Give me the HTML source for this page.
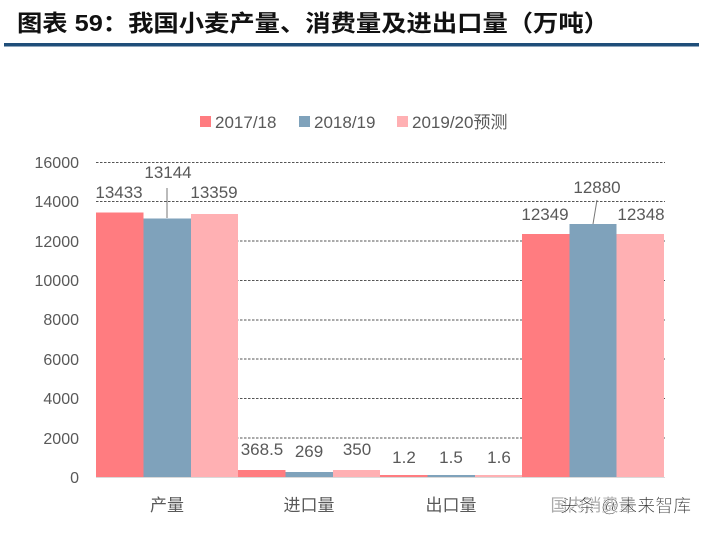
<!DOCTYPE html>
<html><head><meta charset="utf-8"><style>
body{margin:0;background:#fff;}
svg text{font-family:"Liberation Sans","Noto Sans CJK SC",sans-serif;}
</style></head><body>
<svg width="705" height="532" xmlns="http://www.w3.org/2000/svg">
<text x="17" y="31" font-size="23" font-weight="bold" fill="#111" textLength="592" lengthAdjust="spacingAndGlyphs">图表 59：我国小麦产量、消费量及进出口量（万吨）</text>
<rect x="4" y="43" width="695" height="3.5" fill="#1f4e79"/>
<g stroke="#555" stroke-width="1" stroke-dasharray="2.5,1.5">
<line x1="96" y1="162.5" x2="665" y2="162.5"/>
<line x1="96" y1="201.5" x2="665" y2="201.5"/>
<line x1="96" y1="241" x2="665" y2="241"/>
<line x1="96" y1="280.5" x2="665" y2="280.5"/>
<line x1="96" y1="320" x2="665" y2="320"/>
<line x1="96" y1="359" x2="665" y2="359"/>
<line x1="96" y1="398.5" x2="665" y2="398.5"/>
<line x1="96" y1="438" x2="665" y2="438"/>
</g>
<g font-size="16" fill="#595959" text-anchor="end">
<text x="79" y="168">16000</text><text x="79" y="207">14000</text><text x="79" y="247">12000</text>
<text x="79" y="286">10000</text><text x="79" y="325">8000</text><text x="79" y="365">6000</text>
<text x="79" y="404">4000</text><text x="79" y="444">2000</text><text x="79" y="483">0</text>
</g>
<g>
<rect x="96" y="212.5" width="47.5" height="264.5" fill="#ff7c80"/>
<rect x="143.5" y="218.5" width="47.5" height="258.5" fill="#7fa2bb"/>
<rect x="191" y="214" width="47" height="263" fill="#ffb0b3"/>
<rect x="238" y="470" width="47.5" height="7" fill="#ff7c80"/>
<rect x="285.5" y="472" width="47.5" height="5" fill="#7fa2bb"/>
<rect x="333" y="470" width="47" height="7" fill="#ffb0b3"/>
<rect x="380" y="475" width="47.5" height="2" fill="#ff7c80"/>
<rect x="427.5" y="475" width="47.5" height="2" fill="#7fa2bb"/>
<rect x="475" y="475" width="47" height="2" fill="#ffb0b3"/>
<rect x="522" y="234" width="47.5" height="243" fill="#ff7c80"/>
<rect x="569.5" y="224" width="47" height="253" fill="#7fa2bb"/>
<rect x="616.5" y="234" width="47.5" height="243" fill="#ffb0b3"/>
</g>
<line x1="167" y1="188" x2="167" y2="218" stroke="#777" stroke-width="1"/>
<line x1="597" y1="200" x2="593" y2="224" stroke="#777" stroke-width="1"/>
<g font-size="17" fill="#595959" text-anchor="middle">
<text x="119" y="198">13433</text><text x="168" y="178">13144</text><text x="214" y="198">13359</text>
<text x="262" y="455">368.5</text><text x="309" y="457">269</text><text x="357" y="455">350</text>
<text x="404" y="463">1.2</text><text x="451" y="463">1.5</text><text x="499" y="463">1.6</text>
<text x="545" y="220">12349</text><text x="597" y="193">12880</text><text x="641" y="220">12348</text>
</g>
<line x1="96" y1="477.5" x2="665" y2="477.5" stroke="#d9d9d9"/>
<g font-size="17" fill="#595959" text-anchor="middle">
<text x="167" y="511">产量</text><text x="309" y="511">进口量</text><text x="451" y="511">出口量</text><text x="593" y="511" fill="#aaa">国内消费量</text>
</g>
<text x="560" y="512" font-size="18" fill="#333" stroke="#fff" stroke-width="0.6">头条 @未来智库</text>
<g font-size="17" fill="#595959">
<rect x="200" y="116" width="11" height="11" fill="#ff7c80"/><text x="215" y="128">2017/18</text>
<rect x="299" y="116" width="11" height="11" fill="#7fa2bb"/><text x="314" y="128">2018/19</text>
<rect x="397" y="116" width="11" height="11" fill="#ffb0b3"/><text x="412" y="128">2019/20预测</text>
</g>
</svg>
</body></html>
